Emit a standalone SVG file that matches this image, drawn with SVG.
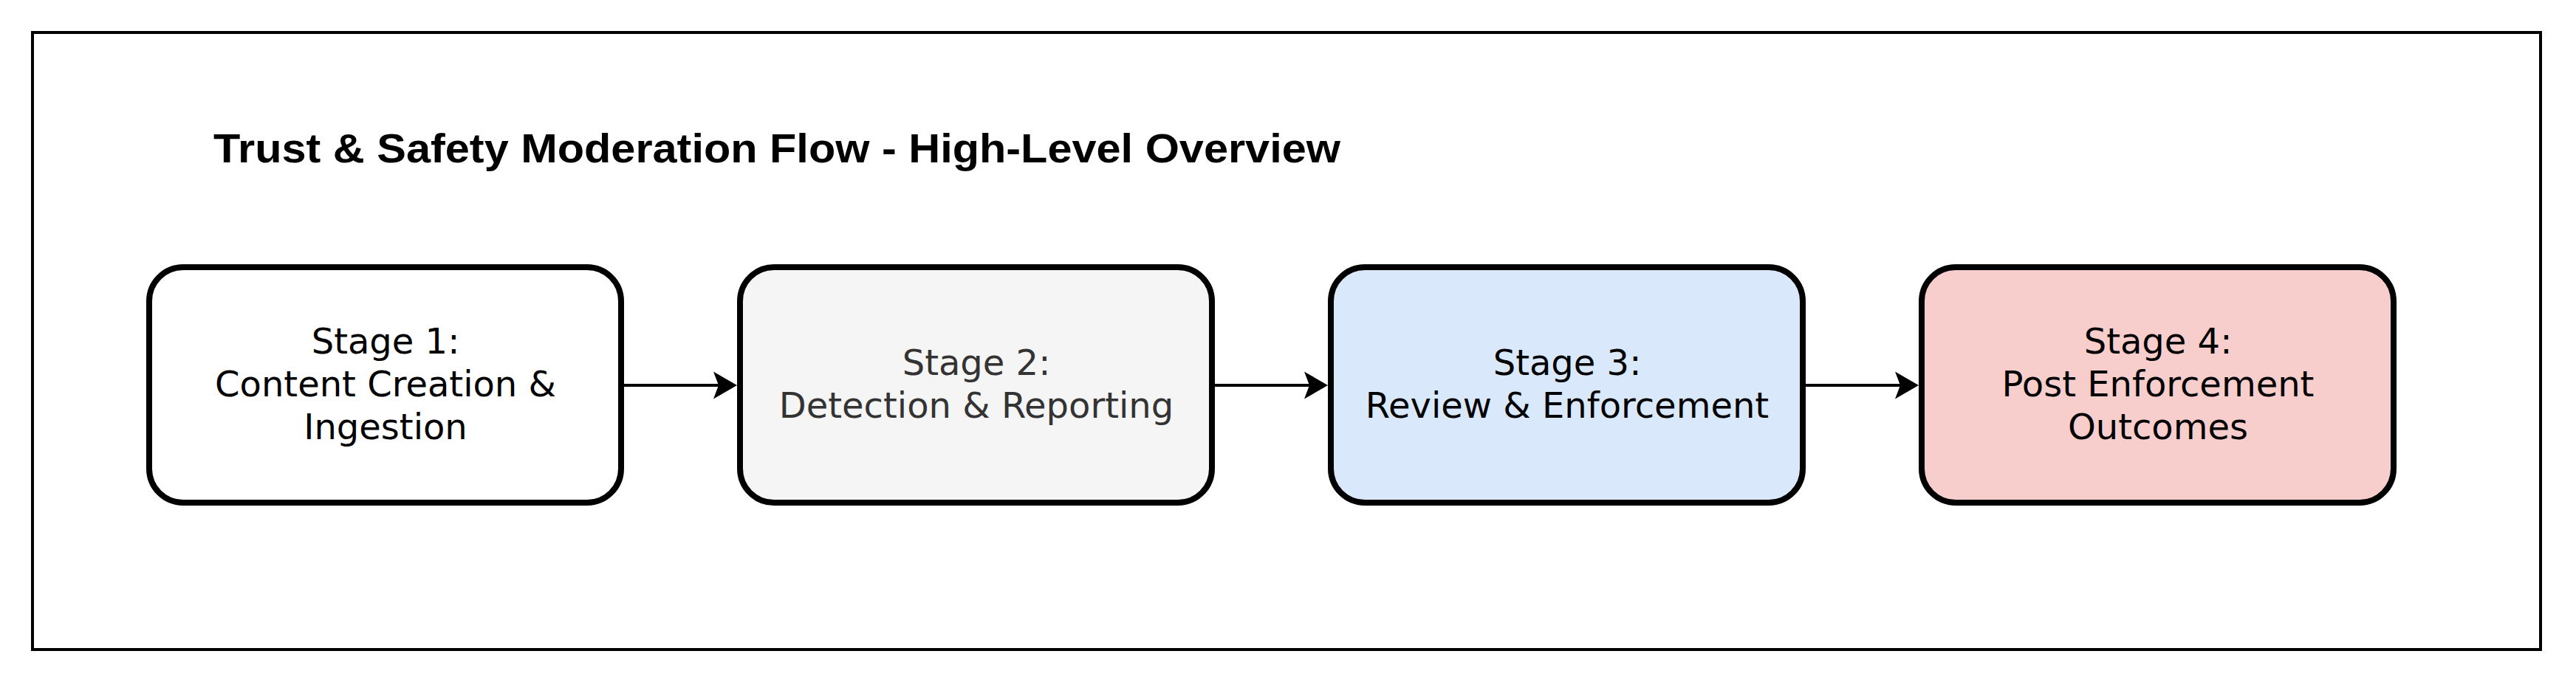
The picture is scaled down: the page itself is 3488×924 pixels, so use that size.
<svg xmlns="http://www.w3.org/2000/svg" width="3488" height="924" viewBox="0 0 3488 924">
<style>
.frame{fill:#ffffff;stroke:#000000;stroke-width:4}
.box{stroke:#000000;stroke-width:8}
.lbl{font-family:"DejaVu Sans","Verdana",sans-serif;font-size:48px;text-anchor:middle}
.title{font-family:"Comic Sans MS","Liberation Sans",sans-serif;font-size:56px;font-weight:bold;fill:#000000}
.edge{fill:none;stroke:#000000;stroke-width:4}
</style>
<defs>
<marker id="arrow" markerUnits="userSpaceOnUse" viewBox="0 0 34 38" markerWidth="34" markerHeight="38" refX="22" refY="19" orient="auto">
<path d="M0,0.5 L32,19 L0,37.5 L7,19 Z" fill="#000000"/>
</marker>
</defs>
<rect x="0" y="0" width="3488" height="924" fill="#ffffff"/>
<g id="frame">
<rect class="frame" x="44" y="44" width="3396" height="836"/>
</g>
<g id="title">
<text class="title" x="289" y="220" textLength="1526" lengthAdjust="spacingAndGlyphs">Trust &amp; Safety Moderation Flow - High-Level Overview</text>
</g>
<g id="connectors">
<path class="edge" d="M845 522 L988 522" marker-end="url(#arrow)"/>
<path class="edge" d="M1645 522 L1788 522" marker-end="url(#arrow)"/>
<path class="edge" d="M2445 522 L2588 522" marker-end="url(#arrow)"/>
</g>
<g id="stage1">
<rect class="box" x="202" y="362" width="639" height="319" rx="46" ry="46" fill="#ffffff"/>
<text class="lbl" fill="#000000"><tspan x="522" y="479">Stage 1:</tspan><tspan x="522" y="537">Content Creation &amp;</tspan><tspan x="522" y="595">Ingestion</tspan></text>
</g>
<g id="stage2">
<rect class="box" x="1002" y="362" width="639" height="319" rx="46" ry="46" fill="#f5f5f5"/>
<text class="lbl" fill="#333333"><tspan x="1322" y="508">Stage 2:</tspan><tspan x="1322" y="566">Detection &amp; Reporting</tspan></text>
</g>
<g id="stage3">
<rect class="box" x="1802" y="362" width="639" height="319" rx="46" ry="46" fill="#dae8fc"/>
<text class="lbl" fill="#000000"><tspan x="2122" y="508">Stage 3:</tspan><tspan x="2122" y="566">Review &amp; Enforcement</tspan></text>
</g>
<g id="stage4">
<rect class="box" x="2602" y="362" width="639" height="319" rx="46" ry="46" fill="#f8cecc"/>
<text class="lbl" fill="#000000"><tspan x="2922" y="479">Stage 4:</tspan><tspan x="2922" y="537">Post Enforcement</tspan><tspan x="2922" y="595">Outcomes</tspan></text>
</g>
</svg>
